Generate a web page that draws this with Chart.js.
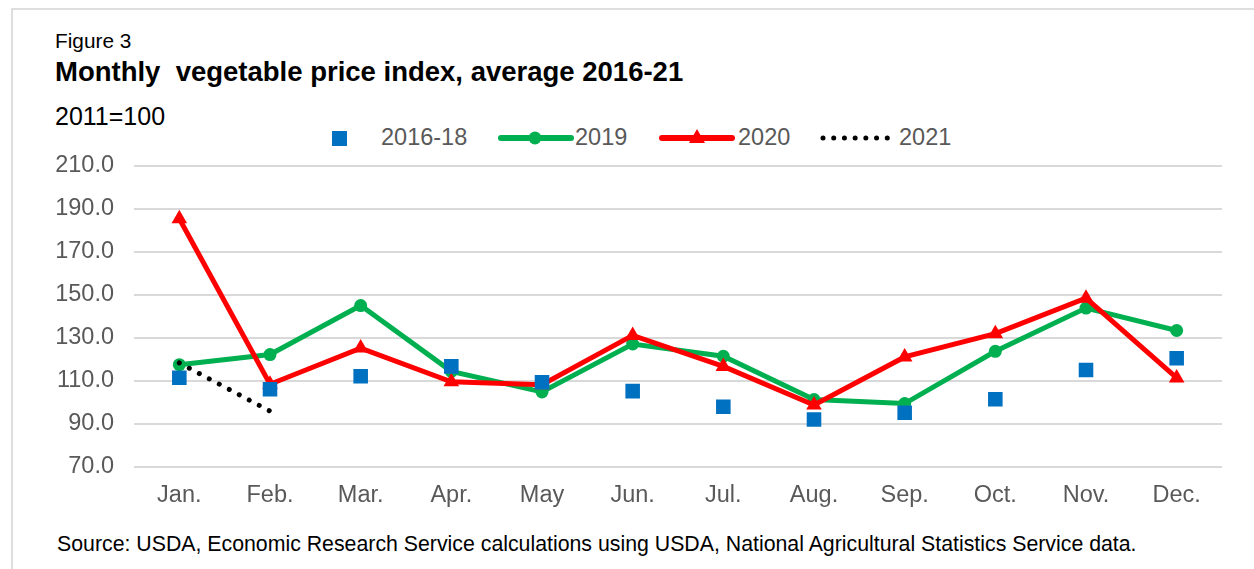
<!DOCTYPE html>
<html>
<head>
<meta charset="utf-8">
<script src="https://cdn.jsdelivr.net/npm/chart.js@4.4.1/dist/chart.umd.min.js"></script>
<style>
  html, body { margin: 0; padding: 0; background: #fff; }
  body { width: 1254px; height: 569px; position: relative; overflow: hidden;
         font-family: "Liberation Sans", Arial, sans-serif; }
  #frame { position: absolute; left: 11px; top: 8px; right: -4px; bottom: -4px;
           border-top: 2px solid #dedede; border-left: 2px solid #dedede; }
  .txt { position: absolute; line-height: 1; white-space: pre; }
  #fig { left: 55px; top: 31px; font-size: 20.8px; color: #000; }
  #title { left: 55px; top: 58px; font-size: 27.5px; font-weight: bold; color: #000; }
  #unit { left: 55px; top: 104px; font-size: 25px; color: #000; }
  #source { left: 57px; top: 534px; font-size: 21.3px; color: #000; }
  .leg { position: absolute; font-size: 23.5px; color: #595959; line-height: 1; top: 126px; }
  .sw { position: absolute; top: 126px; }
  #wrap { position: absolute; left: 0; top: 0; width: 1254px; height: 569px; }
</style>
</head>
<body>
<div id="frame"></div>
<div class="txt" id="fig">Figure 3</div>
<div class="txt" id="title">Monthly  vegetable price index, average 2016-21</div>
<div class="txt" id="unit">2011=100</div>

<!-- legend -->
<svg class="sw" style="left:330px" width="20" height="24"><rect x="2" y="5" width="15" height="15" fill="#0070C0"/></svg>
<div class="leg" style="left:381px">2016-18</div>
<svg class="sw" style="left:497px" width="78" height="24"><line x1="4" y1="12" x2="74" y2="12" stroke="#00B050" stroke-width="6" stroke-linecap="round"/><circle cx="38" cy="12" r="6.5" fill="#00B050"/></svg>
<div class="leg" style="left:575px">2019</div>
<svg class="sw" style="left:658px" width="78" height="24"><line x1="4" y1="12" x2="74" y2="12" stroke="#FF0000" stroke-width="6" stroke-linecap="round"/><polygon points="39,3 47,17 31,17" fill="#FF0000"/></svg>
<div class="leg" style="left:738px">2020</div>
<svg class="sw" style="left:818px" width="74" height="24"><line x1="5" y1="12" x2="70" y2="12" stroke="#000" stroke-width="5" stroke-linecap="round" stroke-dasharray="0.01 10.7"/></svg>
<div class="leg" style="left:899px">2021</div>

<div class="txt" id="source">Source: USDA, Economic Research Service calculations using USDA, National Agricultural Statistics Service data.</div>

<div id="wrap"><canvas id="chart" width="1254" height="569"></canvas></div>

<script>
// Monthly vegetable price index (2011=100)
const months = ['Jan.', 'Feb.', 'Mar.', 'Apr.', 'May', 'Jun.', 'Jul.', 'Aug.', 'Sep.', 'Oct.', 'Nov.', 'Dec.'];
const avg2016to18 = [111.5, 106.2, 112.2, 116.8, 109.4, 105.3, 98.0, 92.1, 95.2, 101.5, 115.1, 120.6];
const y2019 = [117.6, 122.3, 145.1, 114.5, 104.9, 127.2, 121.5, 101.4, 99.5, 123.8, 143.9, 133.5];
const y2020 = [185.5, 108.5, 125.3, 109.6, 108.3, 131.2, 116.8, 98.8, 121.2, 132.0, 148.5, 111.4];
const y2021 = [118.4, 96.0, null, null, null, null, null, null, null, null, null, null];
const yTicks = [70, 90, 110, 130, 150, 170, 190, 210];

const textGrey = '#595959';
const font = { family: '"Liberation Sans", Arial, sans-serif', size: 23.5 };

new Chart(document.getElementById('chart'), {
  type: 'line',
  data: {
    labels: months,
    datasets: [
      {
        label: '2016-18', data: avg2016to18, order: 0,
        showLine: false, pointStyle: 'rect', pointRadius: 10.3, pointHoverRadius: 10.3,
        pointBackgroundColor: '#0070C0', pointBorderWidth: 0, borderColor: '#0070C0'
      },
      {
        label: '2019', data: y2019, order: 2,
        borderColor: '#00B050', borderWidth: 5, backgroundColor: '#00B050',
        pointStyle: 'circle', pointRadius: 6.5, pointHoverRadius: 6.5, pointBorderWidth: 0,
        pointBackgroundColor: '#00B050', tension: 0
      },
      {
        label: '2020', data: y2020, order: 1,
        borderColor: '#FF0000', borderWidth: 5, backgroundColor: '#FF0000',
        pointStyle: 'triangle', pointRadius: 9, pointHoverRadius: 9, pointBorderWidth: 0,
        pointBackgroundColor: '#FF0000', tension: 0
      },
      {
        label: '2021', data: y2021, order: -1,
        borderColor: '#000', borderWidth: 5, borderDash: [0.01, 11.3], borderCapStyle: 'round',
        pointRadius: 0, pointHoverRadius: 0, tension: 0, spanGaps: false
      }
    ]
  },
  options: {
    responsive: false,
    animation: false,
    events: [],
    layout: { padding: { top: 166, right: 32, left: 0, bottom: 0 } },
    plugins: { legend: { display: false }, tooltip: { enabled: false }, title: { display: false } },
    scales: {
      x: {
        offset: true,
        grid: { display: false },
        border: { display: false },
        ticks: { color: textGrey, font: font, padding: 6, maxRotation: 0, autoSkip: false },
        afterFit: s => { s.height = 102; }
      },
      y: {
        min: 70, max: 210,
        grid: { color: '#d9d9d9', lineWidth: 2, drawTicks: false },
        border: { display: false },
        afterBuildTicks: s => { s.ticks = yTicks.map(v => ({ value: v })); },
        ticks: { color: textGrey, font: font, padding: 20, callback: v => Number(v).toFixed(1) },
        afterFit: s => { s.width = 134; }
      }
    }
  }
});
</script>
</body>
</html>
